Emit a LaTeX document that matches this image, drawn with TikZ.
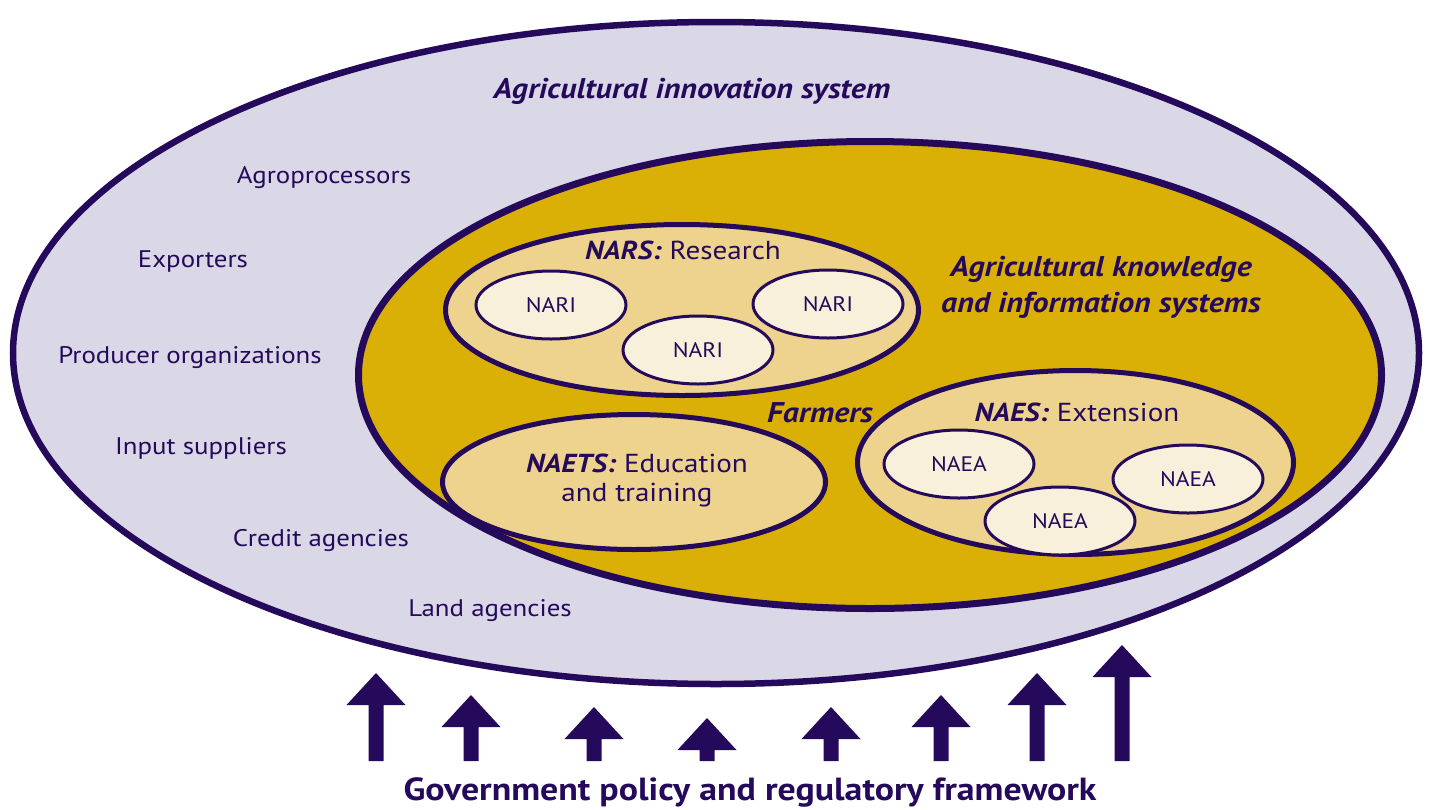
\documentclass[tikz,border=0pt]{standalone}
\usepackage{fontspec}
\setmainfont{PT Sans}[FakeStretch=1.12]
\usetikzlibrary{shapes.geometric}
\definecolor{dk}{HTML}{250A5B}
\definecolor{lav}{HTML}{DAD7E7}
\definecolor{gold}{HTML}{DBB006}
\definecolor{tan}{HTML}{EDD38D}
\definecolor{cream}{HTML}{F8F0DA}
\begin{document}
\begin{tikzpicture}[x=1pt,y=-1pt,
  blob/.style={ellipse, draw=dk, inner sep=0pt},
  unit/.style={blob, fill=cream, line width=3pt, minimum width=150pt, minimum height=68pt,
     text=dk, font=\fontsize{21}{25}\selectfont},
  lbl/.style={text=dk, inner sep=0pt, font=\fontsize{24}{28}\selectfont},
  head/.style={text=dk, inner sep=0pt, align=center, font=\fontsize{26}{29}\selectfont},
  bi/.style={text=dk, inner sep=0pt, align=center, font=\fontsize{28.5}{36}\selectfont\bfseries\itshape}]
\useasboundingbox (0,0) rectangle (1429,809);
% outer system
\node[blob, fill=lav, line width=6.5pt, minimum width=1406pt, minimum height=662pt] (ais) at (716,353) {};
% AKIS
\node[blob, fill=gold, line width=7pt, minimum width=1023pt, minimum height=467pt] (akis) at (870,375) {};
% NARS
\node[blob, fill=tan, line width=5pt, minimum width=473pt, minimum height=171pt] (nars) at (682,310) {};
\node[unit] (nari1) at (551,305) {NARI};
\node[unit] (nari2) at (698,350) {NARI};
\node[unit] (nari3) at (828,304) {NARI};
% NAETS
\node[blob, fill=tan, line width=5pt, minimum width=383pt, minimum height=135pt] (naets) at (634,482) {};
% NAES
\node[blob, fill=tan, line width=5pt, minimum width=436pt, minimum height=184pt] (naes) at (1075.5,462.5) {};
\node[unit] (naea1) at (959,464) {NAEA};
\node[unit] (naea2) at (1060,521) {NAEA};
\node[unit] (naea3) at (1188,479) {NAEA};
% titles
\node[bi] (t-ais) at (692,91) {Agricultural innovation system};
\node[bi] (t-akis) at (1101,287) {Agricultural knowledge\\and information systems};
\node[head] (t-nars) at (683,250) {\textbf{\textit{NARS:}} Research};
\node[head] (t-naets) at (637,480) {\textbf{\textit{NAETS:}} Education\\and training};
\node[head] (t-naes) at (1077,412) {\textbf{\textit{NAES:}} Extension};
\node[bi] (t-farm) at (820,413) {Farmers};
% actors
\node[lbl] (agro) at (324,178) {Agroprocessors};
\node[lbl] (expo) at (193,261) {Exporters};
\node[lbl] (prod) at (190,358) {Producer organizations};
\node[lbl] (inpt) at (201,448) {Input suppliers};
\node[lbl] (cred) at (321,540) {Credit agencies};
\node[lbl] (land) at (490,611) {Land agencies};
% policy arrows
\foreach \x/\t in {376/673, 471/695, 594/707, 707/718, 831/707, 941/695, 1037/673, 1122/645}
  \fill[dk] (\x-7.5,761) -- (\x-7.5,\t+32) -- (\x-29.5,\t+32) -- (\x,\t) -- (\x+29.5,\t+32) -- (\x+7.5,\t+32) -- (\x+7.5,761) -- cycle;
\node[text=dk, inner sep=0pt, font=\fontsize{32}{36}\selectfont\bfseries] (gov) at (750,792) {Government policy and regulatory framework};
\end{tikzpicture}
\end{document}
